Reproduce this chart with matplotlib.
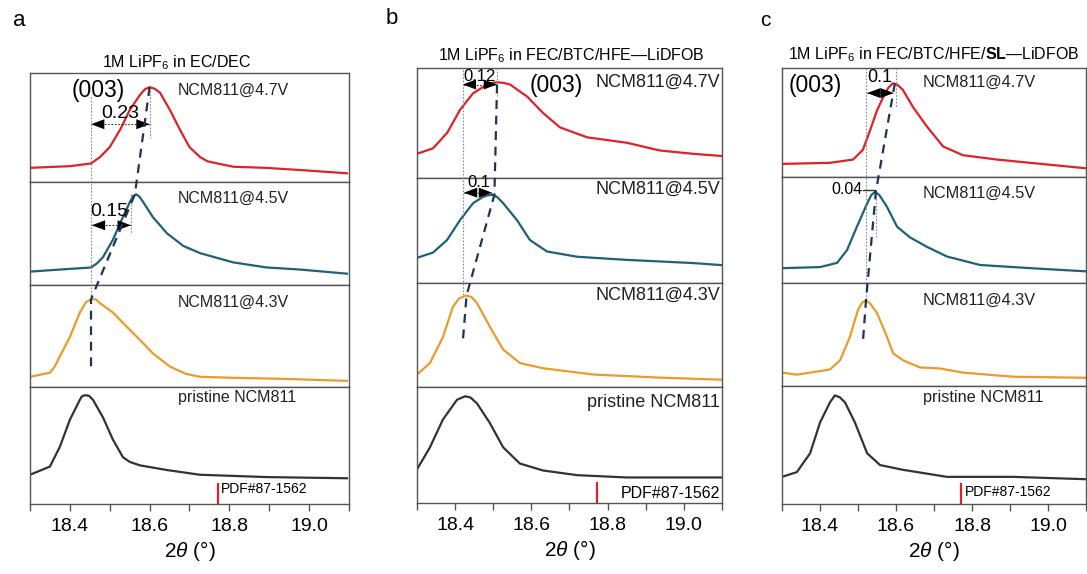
import matplotlib.pyplot as plt
from matplotlib.lines import Line2D
from matplotlib.ticker import MultipleLocator

plt.rcParams['font.family'] = ['Liberation Sans', 'DejaVu Sans']
plt.rcParams['mathtext.fontset'] = 'custom'
plt.rcParams['mathtext.rm'] = 'Liberation Sans'
plt.rcParams['mathtext.it'] = 'Liberation Sans:italic'
plt.rcParams['mathtext.bf'] = 'Liberation Sans:bold'

# normalised (003) intensities, one stack per electrolyte
# a: 1M LiPF6 in EC/DEC
a47_x = [18.30, 18.40, 18.453, 18.476, 18.50, 18.526, 18.55, 18.576, 18.588, 18.60, 18.613,
         18.626, 18.651, 18.676, 18.70, 18.726, 18.745, 18.77, 18.81, 18.89, 18.977, 19.095]
a47_y = [0.13, 0.145, 0.17, 0.23, 0.32, 0.48, 0.66, 0.80, 0.85, 0.87, 0.855,
         0.82, 0.66, 0.48, 0.32, 0.23, 0.19, 0.17, 0.14, 0.13, 0.11, 0.08]
a45_x = [18.30, 18.375, 18.453, 18.468, 18.483, 18.508, 18.533, 18.551, 18.558, 18.566, 18.574,
         18.583, 18.608, 18.644, 18.671, 18.684, 18.726, 18.809, 18.894, 18.977, 19.095]
a45_y = [0.13, 0.15, 0.17, 0.21, 0.27, 0.44, 0.66, 0.81, 0.86, 0.88, 0.86,
         0.81, 0.66, 0.50, 0.42, 0.38, 0.31, 0.22, 0.17, 0.15, 0.11]
a43_x = [18.30, 18.35, 18.362, 18.375, 18.40, 18.425, 18.44, 18.453, 18.465, 18.476, 18.508,
         18.543, 18.576, 18.608, 18.651, 18.69, 18.726, 18.809, 18.935, 19.095]
a43_y = [0.10, 0.14, 0.20, 0.30, 0.49, 0.73, 0.83, 0.86, 0.86, 0.82, 0.73,
         0.59, 0.46, 0.33, 0.20, 0.13, 0.10, 0.09, 0.08, 0.06]
apr_x = [18.30, 18.35, 18.375, 18.40, 18.425, 18.43, 18.438, 18.448, 18.458, 18.483, 18.508,
         18.533, 18.55, 18.576, 18.644, 18.726, 18.894, 19.095]
apr_y = [0.25, 0.32, 0.49, 0.72, 0.89, 0.92, 0.93, 0.925, 0.89, 0.74, 0.55,
         0.40, 0.36, 0.33, 0.29, 0.25, 0.23, 0.22]

# b: 1M LiPF6 in FEC/BTC/HFE-LiDFOB
b47_x = [18.30, 18.342, 18.379, 18.413, 18.447, 18.484, 18.497, 18.51, 18.527, 18.544, 18.589,
         18.631, 18.675, 18.746, 18.851, 18.937, 19.024, 19.10]
b47_y = [0.22, 0.27, 0.41, 0.62, 0.77, 0.85, 0.865, 0.87, 0.865, 0.85, 0.74,
         0.59, 0.46, 0.37, 0.32, 0.25, 0.22, 0.20]
b45_x = [18.30, 18.342, 18.379, 18.413, 18.447, 18.473, 18.485, 18.497, 18.51, 18.526, 18.562,
         18.596, 18.641, 18.72, 18.851, 19.024, 19.10]
b45_y = [0.24, 0.29, 0.41, 0.60, 0.76, 0.82, 0.835, 0.84, 0.82, 0.76, 0.60,
         0.41, 0.30, 0.25, 0.22, 0.19, 0.17]
b43_x = [18.30, 18.334, 18.368, 18.394, 18.41, 18.429, 18.443, 18.457, 18.491, 18.526, 18.57,
         18.631, 18.762, 18.937, 19.10]
b43_y = [0.12, 0.23, 0.48, 0.77, 0.85, 0.88, 0.865, 0.81, 0.58, 0.36, 0.23,
         0.18, 0.12, 0.09, 0.07]
bpr_x = [18.30, 18.334, 18.368, 18.405, 18.426, 18.44, 18.457, 18.491, 18.526, 18.57, 18.631,
         18.72, 18.851, 19.10]
bpr_y = [0.29, 0.48, 0.72, 0.89, 0.92, 0.91, 0.86, 0.69, 0.48, 0.34, 0.28,
         0.24, 0.22, 0.22]

# c: 1M LiPF6 in FEC/BTC/HFE/SL-LiDFOB
c47_x = [18.30, 18.426, 18.487, 18.513, 18.532, 18.55, 18.566, 18.58, 18.592, 18.604, 18.618,
         18.645, 18.682, 18.724, 18.776, 18.866, 18.953, 19.10]
c47_y = [0.12, 0.13, 0.16, 0.25, 0.43, 0.61, 0.73, 0.82, 0.86, 0.845, 0.80,
         0.64, 0.46, 0.28, 0.20, 0.16, 0.13, 0.08]
c45_x = [18.30, 18.40, 18.445, 18.471, 18.497, 18.524, 18.535, 18.545, 18.556, 18.576, 18.603,
         18.637, 18.682, 18.734, 18.821, 18.953, 19.10]
c45_y = [0.14, 0.15, 0.19, 0.31, 0.53, 0.75, 0.83, 0.86, 0.83, 0.72, 0.53,
         0.43, 0.34, 0.25, 0.17, 0.14, 0.11]
c43_x = [18.30, 18.339, 18.426, 18.453, 18.479, 18.50, 18.511, 18.521, 18.532, 18.55, 18.576,
         18.592, 18.618, 18.663, 18.716, 18.776, 18.908, 19.10]
c43_y = [0.13, 0.11, 0.16, 0.25, 0.48, 0.74, 0.81, 0.83, 0.80, 0.71, 0.48,
         0.32, 0.25, 0.18, 0.17, 0.13, 0.09, 0.08]
cpr_x = [18.30, 18.339, 18.374, 18.40, 18.426, 18.439, 18.452, 18.466, 18.492, 18.524, 18.558,
         18.618, 18.734, 18.908, 19.10]
cpr_y = [0.23, 0.27, 0.43, 0.69, 0.86, 0.92, 0.905, 0.86, 0.69, 0.43, 0.33,
         0.29, 0.23, 0.23, 0.21]

pdf_pos = 18.772          # reference (003) line, PDF#87-1562
pdf_height = 0.18
sample_labels = ['NCM811@4.7V', 'NCM811@4.5V', 'NCM811@4.3V', 'pristine NCM811']
colors = ['#dc2329', '#1f6176', '#eb9b2d', '#333333']

fig = plt.figure(figsize=(10.87, 5.74), dpi=100)
W, H = 1087, 574


def make_stack(left, right, edges):
    axs = []
    for k in range(4):
        top, bot = edges[k], edges[k + 1]
        ax = fig.add_axes([left / W, 1 - bot / H, (right - left) / W, (bot - top) / H])
        ax.set_xlim(18.3, 19.1)
        ax.set_ylim(0, 1)
        ax.set_yticks([])
        for s in ax.spines.values():
            s.set_color('#555555')
            s.set_linewidth(1.0)
        if k < 3:
            ax.set_xticks([])
        else:
            ax.xaxis.set_major_locator(MultipleLocator(0.2))
            ax.xaxis.set_minor_locator(MultipleLocator(0.1))
            ax.xaxis.set_major_formatter('{x:.1f}')
            ax.tick_params(axis='x', which='both', direction='out', length=5,
                           width=1, color='#555555', labelsize=14, pad=5)
            ax.set_xlabel(r'$\mathit{2\theta}$ (°)', fontsize=15, labelpad=3)
        axs.append(ax)
    return axs


def fig_line(axs, pts, **kw):
    inv = fig.transFigure.inverted()
    xy = [inv.transform(axs[i].transData.transform((x, y))) for i, x, y in pts]
    fig.add_artist(Line2D([p[0] for p in xy], [p[1] for p in xy],
                          transform=fig.transFigure, **kw))


def shift_arrow(ax, x0, x1, y):
    ax.plot([x0, x1], [y, y], ls=(0, (1.5, 1.5)), color='#333333', lw=0.8)
    xm = (x0 + x1) / 2
    for xe in (x0, x1):
        ax.annotate('', xy=(xe, y), xytext=(xm, y),
                    arrowprops=dict(arrowstyle='-|>,head_length=0.8,head_width=0.3',
                                    lw=0, color='black', shrinkA=0, shrinkB=0,
                                    mutation_scale=12))


dash_kw = dict(color='#1c3557', lw=1.6, ls=(0, (4, 3)))
dot_kw = dict(color='#8a8a8a', lw=0.8, ls=(0, (1.5, 1.5)))

# ---- panel a
ax_a = make_stack(30, 349, [73, 182, 285, 387, 504])
for ax, x, y, c in zip(ax_a, [a47_x, a45_x, a43_x, apr_x], [a47_y, a45_y, a43_y, apr_y], colors):
    ax.plot(x, y, color=c, lw=1.6)
for ax, lab, yl in zip(ax_a, sample_labels, [0.84, 0.84, 0.83, 0.91]):
    ax.text(18.671, yl, lab, fontsize=11.5, va='center', ha='left', color='#222222')
ax_a[0].text(18.471, 0.84, '(003)', fontsize=16.5, ha='center', va='center')
ax_a[3].vlines(pdf_pos, 0, pdf_height, color='#e0202a', lw=1.6)
ax_a[3].text(pdf_pos + 0.006, 0.13, 'PDF#87-1562', fontsize=10, va='center')
fig_line(ax_a, [(0, 18.453, 0.78), (2, 18.453, 0.86)], **dot_kw)
fig_line(ax_a, [(0, 18.60, 0.87), (0, 18.60, 0.40)], **dot_kw)
fig_line(ax_a, [(1, 18.553, 0.88), (1, 18.553, 0.50)], **dot_kw)
shift_arrow(ax_a[0], 18.453, 18.60, 0.53)
shift_arrow(ax_a[1], 18.455, 18.553, 0.58)
ax_a[0].text(18.526, 0.63, '0.23', fontsize=14, ha='center', va='center')
ax_a[1].text(18.50, 0.71, '0.15', fontsize=14, ha='center', va='center')
fig_line(ax_a, [(0, 18.60, 0.87), (1, 18.563, 0.88), (2, 18.453, 0.86), (2, 18.453, 0.19)],
         **dash_kw)
fig.text(177 / W, 1 - 63 / H, r'1M LiPF$_6$ in EC/DEC', fontsize=11.5, ha='center', va='center')
fig.text(19 / W, 1 - 20 / H, 'a', fontsize=16, ha='center', va='center')

# ---- panel b
ax_b = make_stack(417, 722, [68, 178, 283, 387, 503])
for ax, x, y, c in zip(ax_b, [b47_x, b45_x, b43_x, bpr_x], [b47_y, b45_y, b43_y, bpr_y], colors):
    ax.plot(x, y, color=c, lw=1.6)
for ax, lab, yl in zip(ax_b, sample_labels, [0.87, 0.89, 0.88, 0.87]):
    ax.text(19.095, yl, lab, fontsize=13, va='center', ha='right', color='#222222')
ax_b[0].text(18.665, 0.845, '(003)', fontsize=16.5, ha='center', va='center')
ax_b[3].vlines(pdf_pos, 0, pdf_height, color='#e0202a', lw=1.6)
ax_b[3].text(19.095, 0.08, 'PDF#87-1562', fontsize=11.5, va='center', ha='right')
fig_line(ax_b, [(0, 18.42, 0.98), (2, 18.42, 0.88)], **dot_kw)
fig_line(ax_b, [(0, 18.51, 1.0), (0, 18.51, 0.75)], **dot_kw)
shift_arrow(ax_b[0], 18.42, 18.51, 0.85)
shift_arrow(ax_b[1], 18.423, 18.497, 0.86)
ax_b[0].text(18.465, 0.92, '0.12', fontsize=12, ha='center', va='center')
ax_b[1].text(18.463, 0.96, '0.1', fontsize=12, ha='center', va='center')
fig_line(ax_b, [(0, 18.51, 0.85), (1, 18.503, 0.84), (2, 18.43, 0.88), (2, 18.42, 0.43)],
         **dash_kw)
fig.text(571 / W, 1 - 56 / H, r'1M LiPF$_6$ in FEC/BTC/HFE—LiDFOB', fontsize=11.5,
         ha='center', va='center')
fig.text(392 / W, 1 - 19 / H, 'b', fontsize=16, ha='center', va='center')

# ---- panel c
ax_c = make_stack(782, 1086, [68, 177, 283, 386, 504])
for ax, x, y, c in zip(ax_c, [c47_x, c45_x, c43_x, cpr_x], [c47_y, c45_y, c43_y, cpr_y], colors):
    ax.plot(x, y, color=c, lw=1.6)
for ax, lab, yl in zip(ax_c, sample_labels, [0.87, 0.85, 0.83, 0.90]):
    ax.text(18.671, yl, lab, fontsize=11.7, va='center', ha='left', color='#222222')
ax_c[0].text(18.387, 0.84, '(003)', fontsize=16.5, ha='center', va='center')
ax_c[3].vlines(pdf_pos, 0, pdf_height, color='#e0202a', lw=1.6)
ax_c[3].text(pdf_pos + 0.008, 0.10, 'PDF#87-1562', fontsize=10, va='center')
fig_line(ax_c, [(0, 18.521, 1.0), (2, 18.521, 0.83)], **dot_kw)
fig_line(ax_c, [(0, 18.60, 1.0), (0, 18.60, 0.63)], **dot_kw)
fig_line(ax_c, [(1, 18.547, 0.86), (1, 18.547, 0.42)], **dot_kw)
shift_arrow(ax_c[0], 18.524, 18.594, 0.77)
ax_c[1].plot([18.513, 18.545], [0.875, 0.875], color='#333333', lw=1.0)
ax_c[0].text(18.558, 0.91, '0.1', fontsize=13, ha='center', va='center')
ax_c[1].text(18.513, 0.88, '0.04', fontsize=11.5, ha='right', va='center')
fig_line(ax_c, [(0, 18.597, 0.86), (1, 18.547, 0.86), (2, 18.521, 0.83), (2, 18.513, 0.43)],
         **dash_kw)
fig.text(934 / W, 1 - 55 / H, r'1M LiPF$_6$ in FEC/BTC/HFE/$\mathbf{SL}$—LiDFOB',
         fontsize=11.5, ha='center', va='center')
fig.text(765 / W, 1 - 20 / H, 'c', fontsize=15, ha='center', va='center')

fig.savefig('out.png', dpi=100)
plt.close(fig)
